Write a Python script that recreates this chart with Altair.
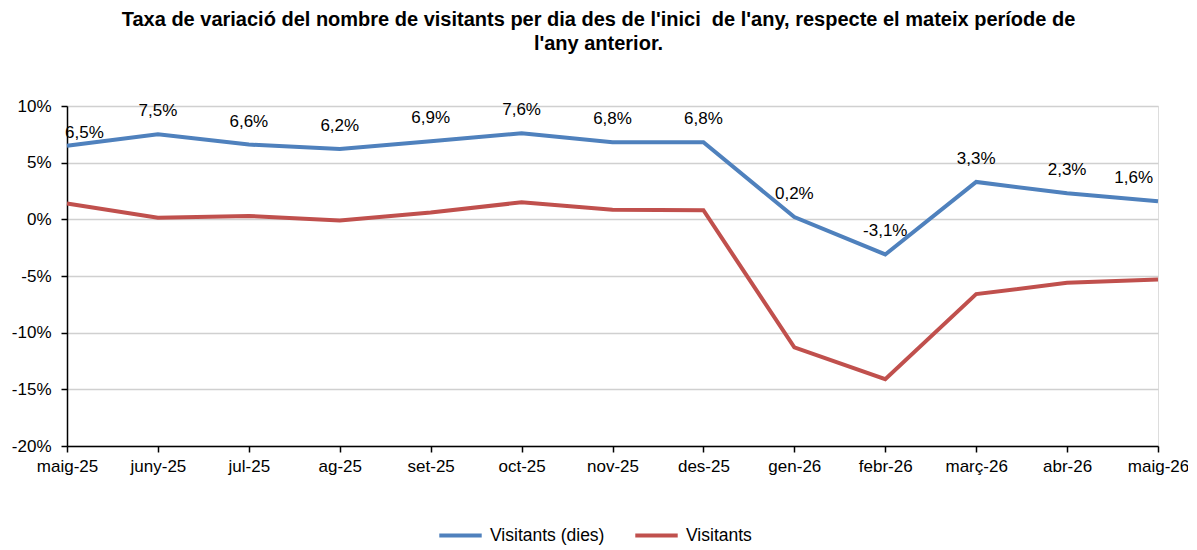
import altair as alt
import pandas as pd

months = ["maig-25", "juny-25", "jul-25", "ag-25", "set-25", "oct-25", "nov-25",
          "des-25", "gen-26", "febr-26", "març-26", "abr-26", "maig-26"]
visitants_dies = [6.5, 7.5, 6.6, 6.2, 6.9, 7.6, 6.8, 6.8, 0.2, -3.1, 3.3, 2.3, 1.6]
visitants = [1.4, 0.15, 0.3, -0.1, 0.6, 1.5, 0.85, 0.8, -11.3, -14.1, -6.6, -5.6, -5.3]
series_names = ["Visitants (dies)", "Visitants"]
series_colors = ["#4F81BD", "#C0504D"]

rows = []
for i, m in enumerate(months):
    rows.append({"mes": m, "idx": i, "serie": series_names[0], "valor": visitants_dies[i],
                 "label": f"{visitants_dies[i]:.1f}%".replace(".", ",")})
    rows.append({"mes": m, "idx": i, "serie": series_names[1], "valor": visitants[i],
                 "label": ""})
df = pd.DataFrame(rows)

FONT = "Liberation Sans"
FS = 17

x_enc = alt.X("mes:N", sort=months, scale=alt.Scale(type="point", padding=0),
              axis=alt.Axis(title=None, labelAngle=0, labelFontSize=FS, labelFont=FONT,
                            labelColor="#000", domainColor="#000", domainWidth=1.5,
                            tickColor="#000", tickSize=6, tickWidth=1.5, labelPadding=6,
                            grid=False))
y_enc = alt.Y("valor:Q", scale=alt.Scale(domain=[-20, 10], nice=False, zero=False),
              axis=alt.Axis(title=None, values=[-20, -15, -10, -5, 0, 5, 10],
                            labelExpr="datum.value + '%'", labelFontSize=FS, labelFont=FONT,
                            labelColor="#000", domainColor="#000", domainWidth=1.5,
                            tickColor="#000", tickSize=6, tickWidth=1.5, labelPadding=10,
                            gridColor="#d0d0d0", gridWidth=1.5))

base = alt.Chart(df)

lines = base.mark_line(strokeWidth=4).encode(
    x=x_enc, y=y_enc,
    color=alt.Color("serie:N", scale=alt.Scale(domain=series_names, range=series_colors),
                    legend=alt.Legend(title=None, orient="none", direction="horizontal",
                                      legendX=370, legendY=406, symbolType="stroke",
                                      symbolSize=1800, symbolStrokeWidth=4,
                                      labelFontSize=17.5, labelFont=FONT, labelColor="#000",
                                      labelOffset=6, columnPadding=22, padding=0)),
    detail="serie:N",
)

blue = base.transform_filter(alt.datum.serie == series_names[0])

labels_mid = blue.transform_filter((alt.datum.idx > 0) & (alt.datum.idx < len(months) - 1)).mark_text(
    dy=-23, fontSize=FS, font=FONT, color="#000").encode(
    x=alt.X("mes:N", sort=months), y="valor:Q", text="label:N")
labels_first = blue.transform_filter(alt.datum.idx == 0).mark_text(
    dy=-13, dx=-2, align="left", fontSize=FS, font=FONT, color="#000").encode(
    x=alt.X("mes:N", sort=months), y="valor:Q", text="label:N")
labels_last = blue.transform_filter(alt.datum.idx == len(months) - 1).mark_text(
    dy=-23, dx=-5, align="right", fontSize=FS, font=FONT, color="#000").encode(
    x=alt.X("mes:N", sort=months), y="valor:Q", text="label:N")

chart = alt.layer(lines, labels_mid, labels_first, labels_last).properties(
    width=1091, height=340,
    title=alt.TitleParams(
        ["Taxa de variació del nombre de visitants per dia des de l'inici\u00a0 de l'any, respecte el mateix període de",
         "l'any anterior."],
        font=FONT, fontSize=20, fontWeight="bold", color="#000", anchor="middle",
        lineHeight=24, offset=43, dx=-14),
    autosize=alt.AutoSizeParams(type="none"),
    padding={"left": 59, "top": 98, "right": 30, "bottom": 100},
).configure_view(stroke=None).configure(background="white")

chart.save("out.html", embed_options={"renderer": "svg", "actions": False})
